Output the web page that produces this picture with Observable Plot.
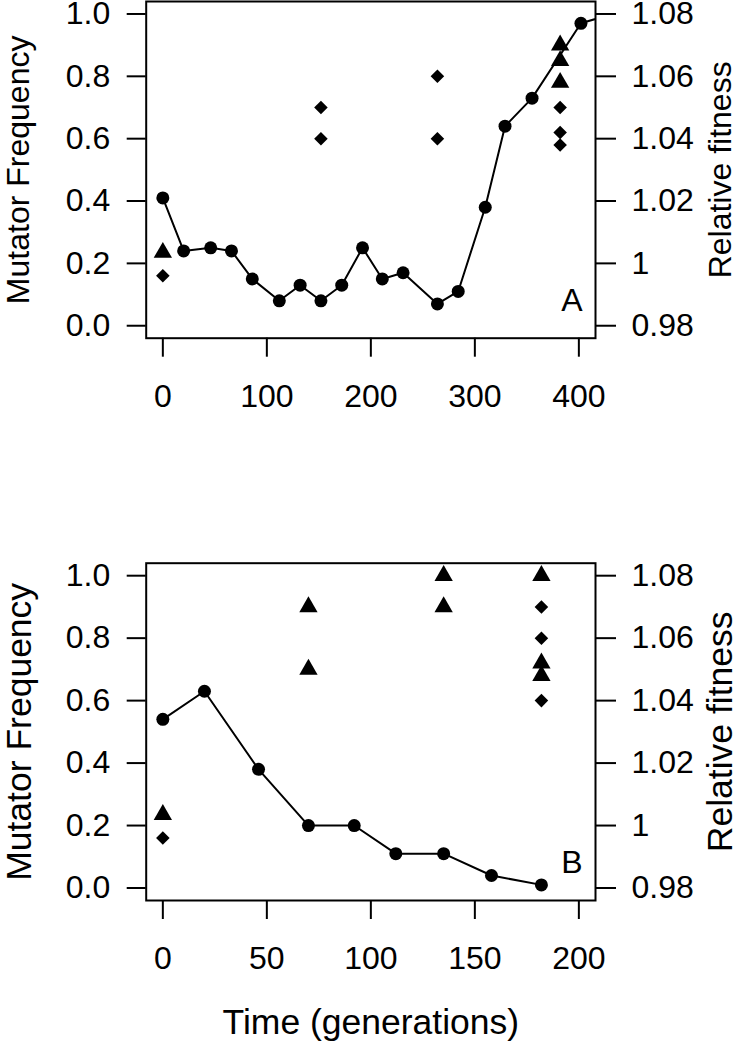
<!DOCTYPE html>
<html>
<head>
<meta charset="utf-8">
<script src="https://cdn.jsdelivr.net/npm/d3@7"></script>
<script src="https://cdn.jsdelivr.net/npm/@observablehq/plot@0.6"></script>
<style>
  html, body { margin: 0; padding: 0; background: #fff; }
  #wrap { width: 738px; height: 1050px; overflow: hidden; }
  #wrap svg { display: block; overflow: visible; }
</style>
</head>
<body>
<div id="wrap"></div>
<script>
// ---------------- Panel A data ----------------
const genA  = [0, 20, 46, 66, 86, 112, 132, 152, 172, 192, 211, 231, 264, 284, 310, 329, 355, 402, 432];
const freqA = [0.41, 0.24, 0.25, 0.24, 0.15, 0.08, 0.13, 0.08, 0.13, 0.25, 0.15, 0.17, 0.07, 0.11, 0.38, 0.64, 0.73, 0.97, 1.0];
const triGenA = [0, 382, 382, 382];
const triFitA = [1.0035, 1.07, 1.065, 1.058];
const diaGenA = [0, 152, 152, 264, 264, 382, 382, 382];
const diaFitA = [0.996, 1.05, 1.04, 1.06, 1.04, 1.05, 1.042, 1.038];
const xTicksA = [0, 100, 200, 300, 400];

// ---------------- Panel B data ----------------
const genB  = [0, 20, 46, 70, 92, 112, 135, 158, 182];
const freqB = [0.54, 0.63, 0.38, 0.20, 0.20, 0.11, 0.11, 0.04, 0.01];
const triGenB = [0, 70, 70, 135, 135, 182, 182, 182];
const triFitB = [1.0035, 1.07, 1.05, 1.08, 1.07, 1.08, 1.052, 1.048];
const diaGenB = [0, 182, 182, 182];
const diaFitB = [0.996, 1.07, 1.06, 1.04];
const xTicksB = [0, 50, 100, 150, 200];

// ---------------- shared axes ----------------
const freqTicks = [0, 0.2, 0.4, 0.6, 0.8, 1.0];
const fitTicks  = [0.98, 1.00, 1.02, 1.04, 1.06, 1.08];
const leftTitle = "Mutator Frequency";
const rightTitle = "Relative fitness";
const xTitle = "Time (generations)";

// fitness (right axis) is drawn on the frequency scale: 0.98 -> 0, 1.08 -> 1
const toFreq = f => (f - 0.98) / 0.1;
const fitLabel = d => String(Number((0.98 + d * 0.1).toFixed(2)));

const FONT = "Liberation Sans, Arial, Helvetica, sans-serif";
const FS = 32;

function panel({gen, freq, triGen, triFit, diaGen, diaFit, xDomain, xTicks, letter, height, marginTop, marginBottom, titleSize, withXTitle}) {
  const line = gen.map((g, i) => ({g, v: freq[i]}));
  const tri = triGen.map((g, i) => ({g, v: toFreq(triFit[i])}));
  const dia = diaGen.map((g, i) => ({g, v: toFreq(diaFit[i])}));
  const marks = [
    Plot.line(line, {x: "g", y: "v", stroke: "black", strokeWidth: 2, clip: true}),
    Plot.dot(line, {x: "g", y: "v", r: 6.5, fill: "black", stroke: "none", clip: true}),
    Plot.dot(dia, {x: "g", y: "v", symbol: "diamond2", r: 6.1, fill: "black", stroke: "none"}),
    Plot.dot(tri, {x: "g", y: "v", symbol: "triangle", r: 6.8, fill: "black", stroke: "none"}),
    Plot.frame({stroke: "black", strokeWidth: 2}),
    Plot.axisY(freqTicks, {anchor: "left", label: null, tickSize: 19, tickPadding: 17, strokeWidth: 2,
      tickFormat: d => d.toFixed(1), fontSize: FS}),
    Plot.axisY(fitTicks.map(toFreq), {anchor: "right", label: null, tickSize: 20, tickPadding: 16, strokeWidth: 2,
      tickFormat: fitLabel, fontSize: FS}),
    Plot.axisX(xTicks, {anchor: "bottom", label: null, tickSize: 19, tickPadding: 27, strokeWidth: 2,
      tickFormat: d => String(d), fontSize: FS}),
    Plot.text([leftTitle], {text: d => d, frameAnchor: "left", textAnchor: "middle", lineAnchor: "middle",
      dx: -127, rotate: -90, fontSize: titleSize}),
    Plot.text([rightTitle], {text: d => d, frameAnchor: "right", textAnchor: "middle", lineAnchor: "middle",
      dx: 125, rotate: -90, fontSize: titleSize}),
    Plot.text([letter], {text: d => d, frameAnchor: "bottom-right", textAnchor: "middle", lineAnchor: "middle",
      dx: -23.5, dy: -37.5, fontSize: FS})
  ];
  if (withXTitle) {
    marks.push(Plot.text([xTitle], {text: d => d, frameAnchor: "bottom", textAnchor: "middle", lineAnchor: "middle",
      dy: 122, fontSize: titleSize}));
  }
  return Plot.plot({
    width: 738,
    height,
    marginLeft: 145.7,
    marginRight: 143,
    marginTop,
    marginBottom,
    style: {fontFamily: FONT, background: "white", color: "black", overflow: "visible"},
    x: {domain: xDomain},
    y: {domain: [-0.04, 1.04]},
    marks
  });
}

const wrap = document.getElementById("wrap");
wrap.appendChild(panel({
  gen: genA, freq: freqA, triGen: triGenA, triFit: triFitA, diaGen: diaGenA, diaFit: diaFitA,
  xDomain: [-16, 416], xTicks: xTicksA, letter: "A",
  height: 480, marginTop: 1, marginBottom: 480 - 337.7, titleSize: 32, withXTitle: false
}));
wrap.appendChild(panel({
  gen: genB, freq: freqB, triGen: triGenB, triFit: triFitB, diaGen: diaGenB, diaFit: diaFitB,
  xDomain: [-8, 208], xTicks: xTicksB, letter: "B",
  height: 570, marginTop: 82.7, marginBottom: 150, titleSize: 35.5, withXTitle: true
}));
</script>
</body>
</html>
